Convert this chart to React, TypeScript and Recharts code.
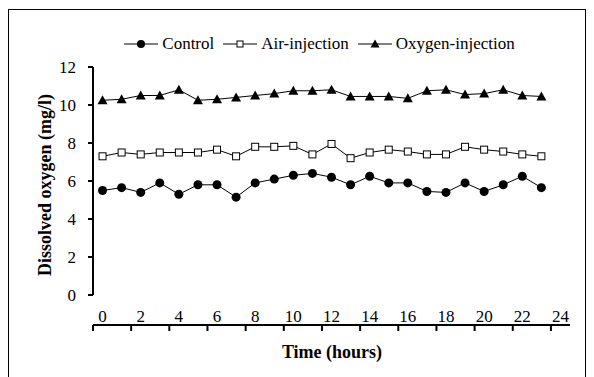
import React from "react";
import { LineChart, Line, XAxis, YAxis } from "recharts";

// Dissolved oxygen readings, one per hour
const hours = [0, 1, 2, 3, 4, 5, 6, 7, 8, 9, 10, 11, 12, 13, 14, 15, 16, 17, 18, 19, 20, 21, 22, 23];
const control = [5.5, 5.65, 5.4, 5.9, 5.3, 5.8, 5.8, 5.15, 5.9, 6.1, 6.3, 6.4, 6.2, 5.8, 6.25, 5.9, 5.9, 5.45, 5.4, 5.9, 5.45, 5.8, 6.25, 5.65];
const airInjection = [7.3, 7.5, 7.4, 7.5, 7.5, 7.5, 7.65, 7.3, 7.8, 7.8, 7.85, 7.4, 7.95, 7.2, 7.5, 7.65, 7.55, 7.4, 7.4, 7.8, 7.65, 7.55, 7.4, 7.3];
const oxygenInjection = [10.25, 10.3, 10.5, 10.5, 10.8, 10.25, 10.3, 10.4, 10.5, 10.6, 10.75, 10.75, 10.8, 10.45, 10.45, 10.45, 10.35, 10.75, 10.8, 10.55, 10.6, 10.8, 10.5, 10.45];

const seriesNames = ["Control", "Air-injection", "Oxygen-injection"];
const xLabelTicks = [0, 2, 4, 6, 8, 10, 12, 14, 16, 18, 20, 22, 24];
const xMarkTicks = [-0.5, 1.5, 3.5, 5.5, 7.5, 9.5, 11.5, 13.5, 15.5, 17.5, 19.5, 21.5, 23.5];
const yTicks = [0, 2, 4, 6, 8, 10, 12];

const data = hours.map((h, i) => ({
	hour: h,
	control: control[i],
	air: airInjection[i],
	oxygen: oxygenInjection[i],
}));

const FONT = "'Liberation Serif', 'Times New Roman', serif";

const CircleDot = (props: any) => {
	const { cx, cy, index } = props;
	if (cx == null || cy == null) return <g key={index} />;
	return <circle key={index} cx={cx} cy={cy} r={4.5} fill="#000" />;
};

const SquareDot = (props: any) => {
	const { cx, cy, index } = props;
	if (cx == null || cy == null) return <g key={index} />;
	return <rect key={index} x={cx - 3.5} y={cy - 3.5} width={7} height={7} fill="#fff" stroke="#000" strokeWidth={1} />;
};

const TriangleDot = (props: any) => {
	const { cx, cy, index } = props;
	if (cx == null || cy == null) return <g key={index} />;
	return <polygon key={index} points={`${cx},${cy - 5} ${cx - 5},${cy + 4} ${cx + 5},${cy + 4}`} fill="#000" />;
};

const legendMarker = (i: number) => {
	if (i === 0) return <circle cx={17} cy={6} r={4} fill="#000" />;
	if (i === 1) return <rect x={14} y={3} width={6} height={6} fill="#fff" stroke="#000" />;
	return <polygon points="17,1.5 12.5,9.5 21.5,9.5" fill="#000" />;
};

const ChartLegend = () => (
	<div
		style={{
			position: "absolute",
			top: 35,
			left: 0,
			width: 648,
			display: "flex",
			justifyContent: "center",
			fontFamily: FONT,
			fontSize: 17,
			lineHeight: "18px",
		}}
	>
		{seriesNames.map((name, i) => (
			<div key={name} style={{ display: "flex", alignItems: "center", marginRight: 9 }}>
				<svg width={34} height={12} style={{ marginRight: 4 }}>
					<line x1={0} y1={6} x2={34} y2={6} stroke="#000" />
					{legendMarker(i)}
				</svg>
				<span>{name}</span>
			</div>
		))}
	</div>
);

export default function App() {
	return (
		<div style={{ position: "absolute", left: 0, top: 0, width: 594, height: 377, background: "#fff", overflow: "hidden", fontFamily: FONT }}>
			<div
				style={{
					position: "absolute",
					left: 8,
					top: 9,
					width: 578,
					height: 380,
					border: "1px solid #000",
					boxSizing: "border-box",
				}}
			/>
			<ChartLegend />
			<div style={{ position: "absolute", left: 0, top: 0 }}>
				<LineChart
					width={594}
					height={377}
					data={data}
					margin={{ top: 67, right: 24, bottom: 46, left: 0 }}
				>
					<XAxis
						xAxisId="marks"
						dataKey="hour"
						type="number"
						domain={[-0.5, 24.5]}
						ticks={xMarkTicks}
						tickFormatter={() => ""}
						tickSize={6}
						height={6}
						stroke="#000"
						strokeWidth={2}
						tickLine={{ stroke: "#000", strokeWidth: 2 }}
						allowDataOverflow
					/>
					<XAxis
						xAxisId="labels"
						dataKey="hour"
						type="number"
						domain={[-0.5, 24.5]}
						ticks={xLabelTicks}
						axisLine={false}
						tickLine={false}
						tickSize={0}
						tickMargin={15}
						height={30}
						tick={{ fill: "#000", fontSize: 17, fontFamily: FONT }}
						interval={0}
						allowDataOverflow
					/>
					<YAxis
						domain={[0, 12]}
						ticks={yTicks}
						width={93}
						tickSize={5}
						tickMargin={12}
						stroke="#000"
						strokeWidth={2}
						tickLine={{ stroke: "#000", strokeWidth: 2 }}
						tick={{ fill: "#000", fontSize: 17, fontFamily: FONT }}
						interval={0}
					/>
					<Line xAxisId="marks" dataKey="control" name={seriesNames[0]} stroke="#000" strokeWidth={1} dot={CircleDot} isAnimationActive={false} />
					<Line xAxisId="marks" dataKey="air" name={seriesNames[1]} stroke="#000" strokeWidth={1} dot={SquareDot} isAnimationActive={false} />
					<Line xAxisId="marks" dataKey="oxygen" name={seriesNames[2]} stroke="#000" strokeWidth={1} dot={TriangleDot} isAnimationActive={false} />
					<text
						x={45}
						y={185}
						transform="rotate(-90 45 185)"
						textAnchor="middle"
						dominantBaseline="central"
						fontFamily={FONT}
						fontWeight="bold"
						fontSize={18}
						fill="#000"
					>
						Dissolved oxygen (mg/l)
					</text>
					<text
						x={332}
						y={352}
						textAnchor="middle"
						dominantBaseline="central"
						fontFamily={FONT}
						fontWeight="bold"
						fontSize={18}
						fill="#000"
					>
						Time (hours)
					</text>
				</LineChart>
			</div>
		</div>
	);
}
